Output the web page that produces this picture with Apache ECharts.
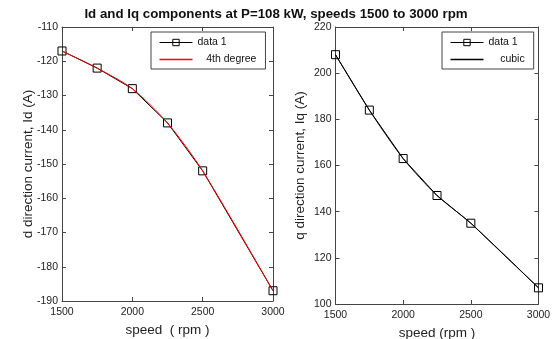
<!DOCTYPE html>
<html>
<head>
<meta charset="utf-8">
<script src="https://cdn.jsdelivr.net/npm/echarts@6/dist/echarts.min.js"></script>
<style>html,body{margin:0;padding:0;background:#fff}#c{width:552px;height:339px}</style>
</head>
<body>
<div id="c"></div>
<script>
// ---- data ----
var titleText = 'Id and Iq components at P=108 kW, speeds 1500 to 3000 rpm';
var speedD = [1500, 1750, 2000, 2250, 2500, 3000];
var idData = [-117, -122, -128, -138, -152, -187];
var idFit4 = [-117, -122, -128, -138, -152, -187];
var speedQ = [1500, 1750, 2000, 2250, 2500, 3000];
var iqData = [208, 184, 163, 147, 135, 107];
var iqCubic = [208, 184, 163, 147, 135, 107];
var xTicks = [1500, 2000, 2500, 3000];
var idTicks = [-190, -180, -170, -160, -150, -140, -130, -120, -110];
var iqTicks = [100, 120, 140, 160, 180, 200, 220];
var leftNames = ['data 1', '4th degree'];
var rightNames = ['data 1 ', 'cubic'];
var xName = ['speed  ( rpm )', 'speed (rpm )'];
var yNames = ['d direction current, Id (A)', 'q direction current, Iq (A)'];

function pairs(xs, ys) { return xs.map(function (x, i) { return [x, ys[i]]; }); }

var FONT = 'Liberation Sans, Arial, sans-serif';
var TICKFONT = '"Liberation Sans Narrow", "Liberation Sans", Arial, sans-serif';
var AX = '#444';
var RED = '#ff0000';

function xAx(grid, pos, name, gap) {
  return {
    type: 'value', gridIndex: grid, position: pos,
    min: xTicks[0], max: xTicks[xTicks.length - 1], interval: xTicks[1] - xTicks[0],
    name: pos === 'bottom' ? name : '', nameLocation: 'middle', nameGap: gap || 16,
    nameTextStyle: { fontFamily: FONT, fontSize: 13.5, color: '#222' },
    axisLine: { show: true, onZero: false, lineStyle: { color: AX, width: 1 } },
    axisTick: { show: true, inside: true, length: 4, lineStyle: { color: AX } },
    axisLabel: { show: pos === 'bottom', margin: 6, fontFamily: TICKFONT, fontSize: 10.5, color: '#222',
      formatter: function (v) { return String(v); } },
    splitLine: { show: false }
  };
}
function yAx(grid, pos, ticks) {
  return {
    type: 'value', gridIndex: grid, position: pos,
    min: ticks[0], max: ticks[ticks.length - 1], interval: ticks[1] - ticks[0],
    axisLine: { show: true, onZero: false, lineStyle: { color: AX, width: 1 } },
    axisTick: { show: true, inside: true, length: 4, lineStyle: { color: AX } },
    axisLabel: { show: pos === 'left', margin: 4, fontFamily: TICKFONT, fontSize: 10.5, color: '#222',
      formatter: function (v) { return String(v); } },
    splitLine: { show: false }
  };
}
function legendOf(names, left, pad, fitColor) {
  return {
    data: [
      { name: names[0], itemStyle: { color: 'rgba(255,255,255,0)', borderColor: '#000', borderWidth: 1 },
        lineStyle: { color: '#000', width: 1 } },
      { name: names[1], icon: 'path://M0,0 H33 V1.3 H0 Z', itemStyle: { color: fitColor, borderWidth: 0, opacity: 1 } }
    ],
    formatter: function (n) { return n === names[1] ? pad + n : n; },
    orient: 'vertical', left: left, top: 32,
    padding: [5, 9, 4, 8], itemGap: 6, itemWidth: 33, itemHeight: 8,
    borderColor: AX, borderWidth: 1, borderRadius: 0, backgroundColor: '#fff',
    textStyle: { fontFamily: FONT, fontSize: 10.5, color: '#111' }
  };
}

var chart = echarts.init(document.getElementById('c'), null, { renderer: 'canvas' });
var sym = { symbol: 'rect', symbolSize: 8, itemStyle: { color: 'rgba(255,255,255,0)', borderColor: '#000', borderWidth: 1 } };

chart.setOption({
  animation: false,
  backgroundColor: '#fff',
  title: {
    text: titleText, left: 'center', top: 3,
    textStyle: { fontFamily: FONT, fontSize: 13.3, fontWeight: 'bold', color: '#111' }
  },
  grid: [
    { left: 62, right: 279, top: 27, bottom: 38, outerBoundsMode: 'none', containLabel: false },
    { left: 335.5, right: 13.5, top: 27, bottom: 35, outerBoundsMode: 'none', containLabel: false }
  ],
  xAxis: [xAx(0, 'bottom', xName[0], 15), xAx(0, 'top'), xAx(1, 'bottom', xName[1], 16), xAx(1, 'top')],
  yAxis: [yAx(0, 'left', idTicks), yAx(0, 'right', idTicks), yAx(1, 'left', iqTicks), yAx(1, 'right', iqTicks)],
  legend: [legendOf(leftNames, 151, '   ', RED), legendOf(rightNames, 442, '    ', '#000')],
  series: [
    Object.assign({ name: leftNames[0], type: 'line', xAxisIndex: 0, yAxisIndex: 0, data: pairs(speedD, idData),
      lineStyle: { color: '#000', width: 1 }, z: 2 }, sym),
    { name: leftNames[1], type: 'line', xAxisIndex: 0, yAxisIndex: 0, data: pairs(speedD, idFit4),
      smooth: 0.25, showSymbol: false, symbol: 'none', lineStyle: { color: RED, width: 1 }, itemStyle: { color: RED }, z: 3 },
    Object.assign({ name: rightNames[0], type: 'line', xAxisIndex: 2, yAxisIndex: 2, data: pairs(speedQ, iqData),
      lineStyle: { color: '#000', width: 1 }, z: 2 }, sym),
    { name: rightNames[1], type: 'line', xAxisIndex: 2, yAxisIndex: 2, data: pairs(speedQ, iqCubic),
      smooth: 0.25, showSymbol: false, symbol: 'none', lineStyle: { color: '#000', width: 1 }, itemStyle: { color: '#000' }, z: 3 }
  ],
  graphic: [
    { type: 'text', x: 28, y: 164, rotation: Math.PI / 2,
      style: { text: yNames[0], fontFamily: FONT, fontSize: 13.5, fill: '#222', align: 'center', verticalAlign: 'middle' } },
    { type: 'text', x: 300, y: 165.5, rotation: Math.PI / 2,
      style: { text: yNames[1], fontFamily: FONT, fontSize: 13.5, fill: '#222', align: 'center', verticalAlign: 'middle' } }
  ]
});
</script>
</body>
</html>
